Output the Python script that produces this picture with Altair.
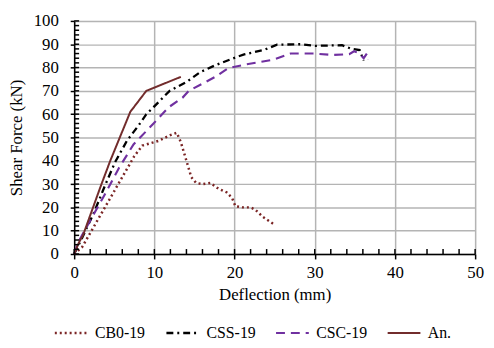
import altair as alt
import pandas as pd

series_names = ["CB0-19", "CSS-19", "CSC-19", "An."]

cb0_x = [0, 1, 2, 3.5, 5, 6.5, 7.5, 8.5, 9.5, 10.5, 12, 12.8, 13.3, 14, 14.6, 15.2, 16, 17, 18, 19, 19.7, 20.1, 21, 22, 22.6, 23.5, 24.8]
cb0_y = [0, 3, 9, 18, 27, 36, 42, 46.5, 47.5, 48.5, 51, 52, 48, 40, 33, 30.5, 30, 30.5, 28, 26.5, 24, 20.5, 20, 20, 19, 16, 13]

css_x = [0, 1, 2.5, 3.8, 5.1, 6.6, 8, 9, 9.9, 11.9, 14.1, 15.7, 17.6, 20.4, 21.2, 23.7, 25.3, 28.2, 30.1, 33.4, 34.6, 35.6, 36.1]
css_y = [0, 7, 18, 29, 39.4, 48.7, 55, 60, 63, 70, 74, 78, 81, 84.7, 85.6, 87.6, 89.8, 90, 89.3, 89.6, 88, 87.5, 83]

csc_x = [0, 0.5, 2.1, 3.8, 5.6, 7.4, 9.9, 11.8, 13.5, 14.3, 17.6, 19.2, 21.2, 24.9, 27, 29.8, 32.2, 34.3, 34.9, 35.6, 36.1, 36.5, 36.7]
csc_y = [0, 5, 15, 25.4, 37, 47, 56, 63, 67, 70, 76, 79.7, 81.2, 83.4, 86, 86, 85.4, 85.7, 87, 86, 84, 86, 83.5]

an_x = [0, 0.6, 1.1, 3.3, 4.5, 7, 9, 13.3]
an_y = [0, 5, 8, 29, 40, 61, 70, 76]

x_major = [0, 10, 20, 30, 40, 50]
y_major = [0, 10, 20, 30, 40, 50, 60, 70, 80, 90, 100]
x_minor = list(range(0, 51, 2))
y_minor = list(range(0, 101, 2))

colors = ["#7B2525", "#000000", "#7030A0", "#722C2C"]
dashes = [[2, 3], [7, 4, 2, 4], [9, 6], [1, 0]]
widths = [2.5, 2, 3.5, 2.5]

W, H = 406, 236

rows = []
for name, xs, ys in zip(series_names, [cb0_x, css_x, csc_x, an_x], [cb0_y, css_y, csc_y, an_y]):
    for i, (a, b) in enumerate(zip(xs, ys)):
        rows.append({"series": name, "x": a, "y": b, "i": i})
df = pd.DataFrame(rows)
df_xminor = pd.DataFrame({"x": x_minor})
df_yminor = pd.DataFrame({"y": y_minor})

FONT = "Liberation Serif, Times New Roman, serif"
XT = "Deflection (mm)"
YT = "Shear Force (kN)"

xscale = alt.Scale(domain=[0, 50], nice=False, zero=False)
yscale = alt.Scale(domain=[0, 100], nice=False, zero=False)

xaxis = alt.Axis(values=x_major, grid=True, gridColor="#B4B4B4", gridWidth=1.5, gridOpacity=1,
                 tickSize=5, tickColor="black", domainColor="black",
                 domainWidth=1.5, tickWidth=1.5, labelFlush=False,
                 labelFont=FONT, labelFontSize=17, labelColor="black", labelPadding=6,
                 titleFont=FONT, titleFontSize=17, titleFontWeight="normal",
                 titleColor="black", titlePadding=6, format="d")
yaxis = alt.Axis(values=y_major, grid=True, gridColor="#B4B4B4", gridWidth=1.5, gridOpacity=1,
                 tickSize=4, tickColor="black", domainColor="black",
                 domainWidth=1.5, tickWidth=1.5, labelFlush=False,
                 labelFont=FONT, labelFontSize=17, labelColor="black", labelPadding=12,
                 titleFont=FONT, titleFontSize=17, titleFontWeight="normal",
                 titleColor="black", titlePadding=8, format="d")

lines = alt.Chart(df).mark_line().encode(
    x=alt.X("x:Q", scale=xscale, title=XT, axis=xaxis),
    y=alt.Y("y:Q", scale=yscale, title=YT, axis=yaxis),
    color=alt.Color("series:N", scale=alt.Scale(domain=series_names, range=colors),
                    legend=alt.Legend(title=None, orient="none", direction="horizontal",
                                      legendX=-21, legendY=298, symbolType="stroke",
                                      symbolSize=1100, symbolStrokeWidth=2.5,
                                      labelFont=FONT, labelFontSize=16, labelColor="black",
                                      columnPadding=16, labelOffset=6)),
    strokeDash=alt.StrokeDash("series:N", scale=alt.Scale(domain=series_names, range=dashes), legend=None),
    strokeWidth=alt.StrokeWidth("series:N", scale=alt.Scale(domain=series_names, range=widths), legend=None),
    order="i:Q",
)

xticks = alt.Chart(df_xminor).mark_rule(color="black", strokeWidth=1.5).encode(
    x=alt.X("x:Q", scale=xscale, title=XT, axis=xaxis),
    y=alt.value(H - 5),
    y2=alt.value(H),
)
yticks = alt.Chart(df_yminor).mark_rule(color="black", strokeWidth=1.5).encode(
    y=alt.Y("y:Q", scale=yscale, title=YT, axis=yaxis),
    x=alt.value(0),
    x2=alt.value(5),
)

chart = alt.layer(lines, xticks, yticks).properties(
    width=W, height=H,
    autosize=alt.AutoSizeParams(type="none"),
    padding={"left": 67, "top": 11, "right": 11, "bottom": 85},
).configure_view(stroke=None).configure(background="white")

chart.save("out.html", embed_options={"renderer": "svg", "actions": False})
